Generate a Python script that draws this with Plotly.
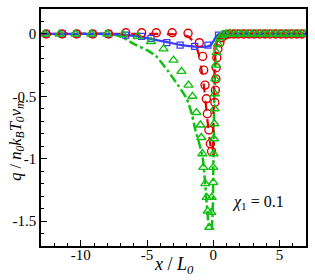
import plotly.graph_objects as go

# ---- data ----
# solid blue line
blue_line_x = [-13, -8, -7, -6, -5.5, -4.7, -4, -3.5, -2.5, -1.4, -0.8, -0.4, -0.2, 0.0, 0.15, 0.3, 0.45, 1, 3, 7]
blue_line_y = [0, 0, -0.005, -0.015, -0.022, -0.04, -0.055, -0.065, -0.088, -0.102, -0.104, -0.1, -0.09, -0.06, -0.03, -0.01, 0, 0, 0, 0]
# blue squares
blue_sq_x = [-12.6, -11.4, -10.3, -9.1, -7.9, -6.6, -5.4, -4.7, -3.5, -2.5, -1.4, -0.4, 0.4, 0.9, 1.6, 2.4, 3.2, 4.0, 4.8, 5.6, 6.4]
blue_sq_y = [0, 0, 0, 0, 0, -0.01, -0.02, -0.035, -0.07, -0.09, -0.10, -0.09, -0.01, 0, 0, 0, 0, 0, 0, 0, 0]
# dashed red line
red_line_x = [-13, -4, -2.5, -1.9, -1.6, -1.3, -1.1, -0.9, -0.7, -0.6, -0.45, -0.3, -0.2, -0.1, -0.02, 0.02, 0.08, 0.15, 0.25, 0.4, 0.6, 1, 7]
red_line_y = [0, 0, -0.005, -0.02, -0.05, -0.1, -0.16, -0.28, -0.42, -0.52, -0.68, -0.82, -0.9, -0.95, -0.9, -0.6, -0.35, -0.18, -0.08, -0.03, -0.01, 0, 0]
# red circles
red_c_x = [-12.6, -11.4, -10.3, -9.1, -7.9, -6.6, -5.4, -4.3, -3.1, -1.9, -1.05, -0.8, -0.72, -0.62, -0.52, -0.45, -0.33, -0.22, -0.13,
           0.12, 0.16, 0.2, 0.22, 0.27, 0.35, 0.5, 0.65, 0.9, 1.2, 1.55, 1.9, 2.3, 2.7, 3.1, 3.5, 3.9, 4.3, 4.7, 5.1, 5.5, 5.9, 6.3, 6.7]
red_c_y = [0, 0, 0, 0, 0, 0.01, 0.01, 0.01, 0.01, 0.005, -0.07, -0.18, -0.29, -0.41, -0.52, -0.64, -0.77, -0.88, -0.94,
           -0.55, -0.45, -0.36, -0.27, -0.19, -0.12, -0.07, -0.03, -0.01, 0, 0, 0, 0, 0, 0, 0, 0, 0, 0, 0, 0, 0, 0, 0]
# dash-dot green line
green_line_x = [-13, -8, -7.5, -6.8, -6, -5, -4.3, -3.4, -2.6, -2.0, -1.6, -1.35, -1.1, -0.8, -0.7, -0.6, -0.45, -0.3, -0.15, -0.05, 0.0, 0.05, 0.1, 0.2, 0.3, 0.5, 1, 7]
green_line_y = [0, 0, -0.005, -0.03, -0.08, -0.13, -0.18, -0.3, -0.42, -0.52, -0.65, -0.77, -0.86, -0.99, -1.09, -1.21, -1.42, -1.55, -1.56, -1.45, -1.1, -0.7, -0.4, -0.15, -0.05, -0.01, 0, 0]
# green triangles
green_t_x = [-12.7, -11.6, -10.4, -9.2, -8.0, -6.8, -5.7, -4.7, -3.75, -3.0, -2.4, -1.87, -1.57, -1.27, -0.97, -0.9, -0.82, -0.75, -0.6, -0.5, -0.42, -0.3,
             -0.15, -0.12, 0.0, 0.0, 0.02, 0.05, 0.08, 0.1, 0.12, 0.15, 0.2, 0.25, 0.35, 0.5, 0.7,
             0.95, 1.3, 1.7, 2.1, 2.5, 2.9, 3.3, 3.7, 4.1, 4.5, 4.9, 5.3, 5.7, 6.1, 6.5, 6.9]
green_t_y = [0, 0, 0, 0, 0, -0.005, -0.02, -0.06, -0.12, -0.21, -0.30, -0.41, -0.50, -0.63, -0.73, -0.83, -0.96, -1.07, -1.2, -1.31, -1.42, -1.55,
             -1.43, -1.31, -1.19, -1.07, -0.96, -0.84, -0.72, -0.6, -0.48, -0.36, -0.25, -0.15, -0.08, -0.03, -0.01,
             0, 0, 0, 0, 0, 0, 0, 0, 0, 0, 0, 0, 0, 0, 0, 0]

x_tick_vals = [-10, -5, 0, 5]
x_tick_text = ["-10", "-5", "0", "5"]
y_tick_vals = [0, -0.5, -1, -1.5]
y_tick_text = ["0", "-0.5", "-1", "-1.5"]

RED = "#e00000"
BLUE = "#3b3bff"
GREEN = "#10c010"
SERIF = "Times New Roman, Liberation Serif, serif"

fig = go.Figure()
fig.add_trace(go.Scatter(x=green_line_x, y=green_line_y, mode="lines",
                         line=dict(color=GREEN, width=2.5, dash="dashdot", shape="spline", smoothing=0.6)))
fig.add_trace(go.Scatter(x=red_line_x, y=red_line_y, mode="lines",
                         line=dict(color=RED, width=2.2, dash="dash", shape="spline", smoothing=0.6)))
fig.add_trace(go.Scatter(x=blue_line_x, y=blue_line_y, mode="lines",
                         line=dict(color=BLUE, width=2.2, shape="spline", smoothing=0.6)))
fig.add_trace(go.Scatter(x=blue_sq_x, y=blue_sq_y, mode="markers",
                         marker=dict(symbol="square-open", size=6, color=BLUE, line=dict(width=1.3))))
fig.add_trace(go.Scatter(x=red_c_x, y=red_c_y, mode="markers",
                         marker=dict(symbol="circle-open", size=8, color=RED, line=dict(width=1.4))))
fig.add_trace(go.Scatter(x=green_t_x, y=green_t_y, mode="markers",
                         marker=dict(symbol="triangle-up-open", size=8, color=GREEN, line=dict(width=1.4))))

axis_common = dict(showgrid=False, zeroline=False, showline=True, linecolor="black", linewidth=1.5,
                   mirror=True, ticks="inside", ticklen=6, tickwidth=1.2, tickcolor="black",
                   tickfont=dict(family=SERIF, size=15, color="black"))

fig.update_xaxes(range=[-13, 7], tickmode="array", tickvals=x_tick_vals, ticktext=x_tick_text,
                 ticklabelstandoff=-6,
                 minor=dict(ticks="inside", ticklen=3, dtick=1, tick0=0, tickcolor="black", tickwidth=1),
                 **axis_common)
fig.update_yaxes(range=[-1.7, 0.2], tickmode="array", tickvals=y_tick_vals, ticktext=y_tick_text,
                 minor=dict(ticks="inside", ticklen=3, dtick=0.1, tick0=0, tickcolor="black", tickwidth=1),
                 **axis_common)

fig.add_annotation(xref="paper", yref="paper", x=0.5, y=-0.084, yanchor="middle", showarrow=False,
                   text="<i>x</i> / <i>L</i><sub><i>0</i></sub>",
                   font=dict(family=SERIF, size=18, color="black"))
fig.add_annotation(xref="paper", yref="paper", x=-0.097, y=0.445, xanchor="center", yanchor="middle",
                   showarrow=False, textangle=-90,
                   text="<i>q</i> / <i>n</i><sub><i>0</i></sub><i>k</i><sub><i>B</i></sub><i>T</i><sub><i>0</i></sub><i>v</i><sub><i>m</i></sub>",
                   font=dict(family=SERIF, size=16.5, color="black"))
fig.add_annotation(x=3.4, y=-1.35, xref="x", yref="y", showarrow=False,
                   text="<i>χ</i><sub>1</sub> = 0.1",
                   font=dict(family=SERIF, size=16, color="black"))

fig.update_layout(width=315, height=280, margin=dict(l=41, r=7, t=8, b=34),
                  paper_bgcolor="white", plot_bgcolor="white", showlegend=False)

fig.write_html("out.html", config={"displayModeBar": False},
               post_script="document.body.style.margin='0';document.body.style.overflow='hidden';")
